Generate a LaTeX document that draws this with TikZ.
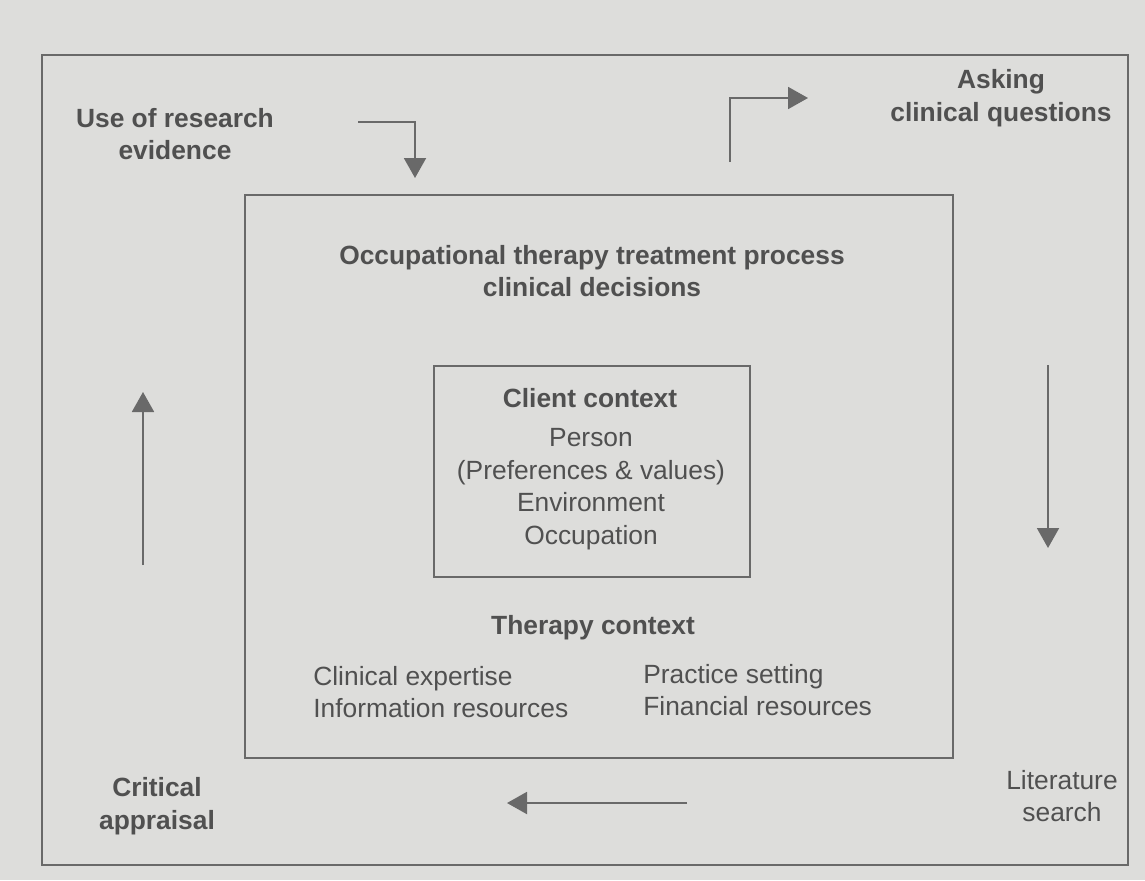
\documentclass[tikz,border=0pt]{standalone}
\usepackage{fontspec}
\setmainfont{Liberation Sans}
\usetikzlibrary{arrows.meta}
\definecolor{paper}{RGB}{221,221,219}
\definecolor{ink}{RGB}{80,80,80}
\definecolor{rule}{RGB}{105,105,105}

\begin{document}
\begin{tikzpicture}[x=0.2mm,y=-0.2mm,
  every node/.style={text=ink,font=\fontsize{15}{18.5}\selectfont,align=center,inner sep=0pt},
  heading/.style={font=\fontsize{15}{18.5}\selectfont\bfseries},
  frame/.style={draw=rule,line width=1.1pt},
  flow/.style={draw=rule,line width=1.1pt,-{Triangle[length=4mm,width=4.4mm]}}]
\fill[paper] (0,0) rectangle (1145,880);
\useasboundingbox (0,0) rectangle (1145,880);
% frames
\draw[frame] (42,55) rectangle (1128,865);
\draw[frame] (245,195) rectangle (953,758);
\draw[frame] (434,366) rectangle (750,577);
% labels
\node[heading] (use) at (175,134) {Use of research\\evidence};
\node[heading] (ask) at (1001,98) {Asking\\clinical questions};
\node[heading] (otp) at (592,271) {Occupational therapy treatment process\\clinical decisions};
\node[heading] (client) at (590,398) {Client context};
\node (factors) at (591,489) {Person\\(Preferences \& values)\\Environment\\Occupation};
\node[heading] (therapy) at (593,628) {Therapy context};
\node[anchor=west,align=left] (expert) at (313,692) {Clinical expertise\\Information resources};
\node[anchor=west,align=left] (setting) at (643,690) {Practice setting\\Financial resources};
\node[heading] (appraisal) at (157,806) {Critical\\appraisal};
\node (search) at (1062,796) {Literature\\search};
% cycle arrows
\coordinate (usefrom) at (358,122);
\coordinate (useto) at (415,178);
\coordinate (askfrom) at (730,162);
\coordinate (askto) at (808,98);
\coordinate (searchfrom) at (1048,365);
\coordinate (searchto) at (1048,548);
\coordinate (apprfrom) at (687,803);
\coordinate (apprto) at (507,803);
\coordinate (evidfrom) at (143,565);
\coordinate (evidto) at (143,392);
\draw[flow] (usefrom) -| (useto);
\draw[flow] (askfrom) |- (askto);
\draw[flow] (searchfrom) -- (searchto);
\draw[flow] (apprfrom) -- (apprto);
\draw[flow] (evidfrom) -- (evidto);
\end{tikzpicture}
\end{document}
